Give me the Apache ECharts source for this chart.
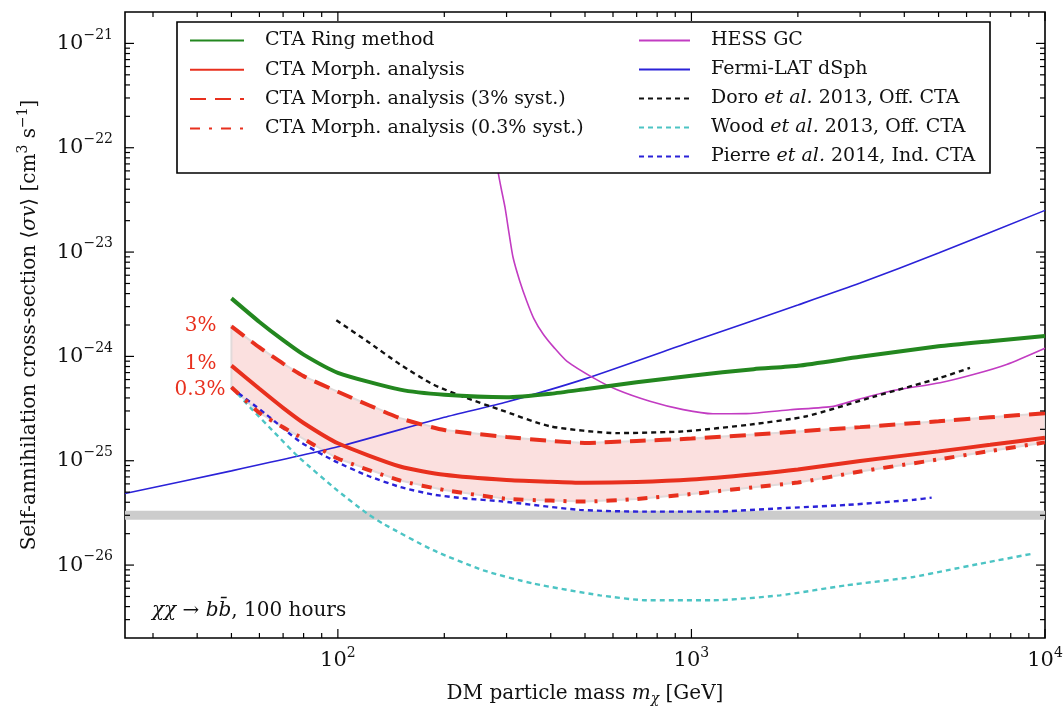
<!DOCTYPE html>
<html><head><meta charset="utf-8">
<script src="https://cdn.jsdelivr.net/npm/echarts@6/dist/echarts.min.js"></script>
<style>html,body{margin:0;padding:0;background:#fff}#c{width:1063px;height:709px}</style>
</head><body><div id="c"></div>
<script>
// ---------------- data ----------------
const ctaMass = [50,60,70,80,100,150,200,300,400,500,700,1000,1500,2000,3000,5000,7000,10000];
const ringSigma = [3.6e-24,2.14e-24,1.43e-24,1.04e-24,6.97e-25,4.8e-25,4.29e-25,4.06e-25,4.39e-25,4.85e-25,5.66e-25,6.53e-25,7.55e-25,8.14e-25,9.93e-25,1.25e-24,1.4e-24,1.57e-24];
const morphSigma = [8.16e-25,4.89e-25,3.21e-25,2.3e-25,1.47e-25,8.8e-26,7.33e-26,6.53e-26,6.3e-26,6.15e-26,6.25e-26,6.6e-26,7.43e-26,8.24e-26,9.95e-26,1.23e-25,1.42e-25,1.66e-25];
const morph3Sigma = [1.94e-24,1.22e-24,8.53e-25,6.47e-25,4.58e-25,2.56e-25,1.97e-25,1.69e-25,1.55e-25,1.48e-25,1.55e-25,1.63e-25,1.78e-25,1.91e-25,2.1e-25,2.39e-25,2.61e-25,2.85e-25];
const morph03Sigma = [5.07e-25,2.88e-25,2.09e-25,1.62e-25,1.05e-25,6.46e-26,5.24e-26,4.31e-26,4.15e-26,4.06e-26,4.3e-26,4.8e-26,5.57e-26,6.18e-26,7.88e-26,1.03e-25,1.24e-25,1.5e-25];

const hessMass = [278,284,290,297,305,313,327,342,358,381,410,444,528,614,763,948,1150,1430,1900,2520,2930,3640,5050,6270,7790,10000];
const hessSigma = [9.4e-23,5.82e-23,4.0e-23,2.68e-23,1.5e-23,8.87e-24,5.26e-24,3.4e-24,2.32e-24,1.63e-24,1.2e-24,9.01e-25,6.23e-25,4.82e-25,3.72e-25,3.09e-25,2.82e-25,2.83e-25,3.08e-25,3.32e-25,3.84e-25,4.64e-25,5.6e-25,6.71e-25,8.38e-25,1.2e-24];

const fermiMass = [25,50,100,200,300,500,1000,2000,3000,5000,10000];
const fermiSigma = [4.85e-26,8.0e-26,1.36e-25,2.61e-25,3.66e-25,6.09e-25,1.38e-24,3.11e-24,5.04e-24,9.79e-24,2.51e-23];

const doroMass = [99,121,150,186,231,287,398,614,948,1464,2118,3268,5047,6136];
const doroSigma = [2.22e-24,1.4e-24,8.37e-25,5.38e-25,4.0e-25,3.09e-25,2.14e-25,1.84e-25,1.91e-25,2.22e-25,2.67e-25,4.1e-25,6.22e-25,7.77e-25];

const woodMass = [50,56.8,66.4,77.3,100,121,134,186,258,357,551,747,1153,1780,2748,4241,5272,6550,9267];
const woodSigma = [5.07e-25,3.18e-25,1.84e-25,1.09e-25,5.15e-26,3.12e-26,2.5e-26,1.39e-26,8.9e-27,6.65e-27,5.13e-27,4.6e-27,4.6e-27,5.13e-27,6.4e-27,7.69e-27,8.9e-27,1.03e-26,1.29e-26];

const pierreMass = [50,62.8,78,97,121,150,186,231,287,484,747,1153,1780,2748,4241,4780];
const pierreSigma = [5.0e-25,2.77e-25,1.53e-25,1.01e-25,7.22e-26,5.6e-26,4.74e-26,4.34e-26,4.1e-26,3.38e-26,3.25e-26,3.25e-26,3.5e-26,3.77e-26,4.22e-26,4.43e-26];

const thermalMass = [25,10000];
const thermalSigma = [3.0e-26,3.0e-26];

const pctLabels = ['3%','1%','0.3%'];

const xMajorTicks = [100,1000,10000];
const yMajorTicks = [1e-26,1e-25,1e-24,1e-23,1e-22,1e-21];
const xRange = [25,10000];
const yRange = [2e-27,2e-21];

// ---------------- build ----------------
const FONT = 'DejaVu Serif';
const RED = '#e8301e';
const pairs = (xs, ys) => xs.map((x,i)=>[x, ys[i]]);

const xMinor = [], yMinor = [];
for (let e = 1; e <= 3; e++) for (let k = 2; k <= 9; k++) { const v = k*Math.pow(10,e); if (v > xRange[0] && v < xRange[1]) xMinor.push(v); }
for (let e = -27; e <= -21; e++) for (let k = 2; k <= 9; k++) { const v = k*Math.pow(10,e); if (v > yRange[0]*1.01 && v < yRange[1]*0.99) yMinor.push(v); }
const tickData = [];
xMajorTicks.forEach(v=>tickData.push([v, yRange[0], 0]));
xMinor.forEach(v=>tickData.push([v, yRange[0], 1]));
yMajorTicks.forEach(v=>tickData.push([xRange[0], v, 2]));
yMinor.forEach(v=>tickData.push([xRange[0], v, 3]));

function renderTick(params, api) {
  const cs = params.coordSys;
  const kind = api.value(2);
  const len = (kind === 0 || kind === 2) ? 9 : 5;
  const p = api.coord([api.value(0), api.value(1)]);
  const st = {stroke:'#000', lineWidth:1.2};
  if (kind < 2) {
    const b = cs.y + cs.height, t = cs.y;
    return {type:'group', children:[
      {type:'line', shape:{x1:p[0], y1:b, x2:p[0], y2:b-len}, style:st},
      {type:'line', shape:{x1:p[0], y1:t, x2:p[0], y2:t+len}, style:st}]};
  }
  const l = cs.x, r = cs.x + cs.width;
  return {type:'group', children:[
    {type:'line', shape:{x1:l, y1:p[1], x2:l+len, y2:p[1]}, style:st},
    {type:'line', shape:{x1:r, y1:p[1], x2:r-len, y2:p[1]}, style:st}]};
}

function renderBand(params, api) {
  const top = ctaMass.map((m,i)=>api.coord([m, morph3Sigma[i]]));
  const bot = ctaMass.map((m,i)=>api.coord([m, morph03Sigma[i]])).reverse();
  return {type:'polygon', shape:{points: top.concat(bot)},
          style:{fill:'#fbe0df', stroke:'#e2dada', lineWidth:2}};
}

// label styling (offsets in px, not data)
const pctGap = [15, 15, 6];
const pctShift = [-1, -2, 3];
function renderPct(params, api) {
  const i = params.dataIndex;
  const p = api.coord([api.value(0), api.value(1)]);
  return {type:'text', x:p[0] - pctGap[i], y:p[1] + pctShift[i],
    style:{text:pctLabels[i], align:'right', verticalAlign:'middle', fill:RED,
           font:'20px "' + FONT + '"'}};
}

function expLabel(v) {
  if (!(v > 0)) return '';
  const e = Math.log10(v), r = Math.round(e);
  if (!isFinite(e) || Math.abs(e - r) > 1e-6) return '';
  return '{b|10}{s|' + (r < 0 ? '\u2212' + (-r) : String(r)) + '}';
}

const lineBase = {type:'line', showSymbol:false, symbol:'none', smooth:0.2, z:3};
const legendRich = {
  sp:{width:16, fontFamily:FONT, fontSize:19, lineHeight:20},
  n:{fontFamily:FONT, fontSize:19, color:'#111', lineHeight:20},
  it:{fontFamily:FONT, fontSize:19, fontStyle:'italic', color:'#111', lineHeight:20}
};
const legendFmt = name => {
  const parts = name.split('et al.');
  let s = '{sp| }{n|' + parts[0] + '}';
  if (parts.length > 1) s += '{it|et al.}{n|' + parts[1] + '}';
  return s;
};

const legendCommon = {orient:'vertical', padding:0, itemHeight:14, selectedMode:false, z:5,
  itemStyle:{opacity:0, borderWidth:0}, formatter:legendFmt, textStyle:{rich:legendRich}};

const option = {
  animation:false,
  backgroundColor:'#fff',
  grid:{left:125, right:18, top:12, bottom:71, show:true, borderColor:'#000', borderWidth:1.6,
        backgroundColor:'transparent', containLabel:false, outerBoundsMode:'none'},
  xAxis:{type:'log', logBase:10, min:xRange[0], max:xRange[1],
    axisLine:{show:false}, axisTick:{show:false}, splitLine:{show:false},
    axisLabel:{formatter:expLabel, margin:8, color:'#111',
      rich:{b:{fontFamily:FONT, fontSize:21, color:'#111'}, s:{fontFamily:FONT, fontSize:14, color:'#111', padding:[0,0,16,0]}}},
    name:'{n|DM particle mass }{i|m}{sub|\u03c7}{n| [GeV]}', nameLocation:'middle', nameGap:44, nameMoveOverlap:false,
    nameTextStyle:{rich:{n:{fontFamily:FONT, fontSize:20, color:'#111'}, i:{fontFamily:FONT, fontSize:20, fontStyle:'italic', color:'#111'},
      sub:{fontFamily:FONT, fontSize:14, fontStyle:'italic', color:'#111', padding:[10,0,0,0]}}}
  },
  yAxis:{type:'log', logBase:10, min:yRange[0], max:yRange[1],
    axisLine:{show:false}, axisTick:{show:false}, splitLine:{show:false},
    axisLabel:{formatter:expLabel, margin:12, color:'#111',
      rich:{b:{fontFamily:FONT, fontSize:21, color:'#111'}, s:{fontFamily:FONT, fontSize:14, color:'#111', padding:[0,0,17,0]}}},
    name:'{n|Self-annihilation cross-section \u27e8}{i|\u03c3v}{n|\u27e9 [cm}{sup|3}{n| s}{sup|\u22121}{n|]}',
    nameLocation:'middle', nameRotate:90, nameGap:81, nameMoveOverlap:false,
    nameTextStyle:{rich:{n:{fontFamily:FONT, fontSize:20, color:'#111'}, i:{fontFamily:FONT, fontSize:20, fontStyle:'italic', color:'#111'},
      sup:{fontFamily:FONT, fontSize:14, color:'#111', padding:[0,0,14,0]}}}
  },
  legend:[
    Object.assign({}, legendCommon, {left:189, top:31, itemWidth:54, itemGap:10.3,
     data:['CTA Ring method','CTA Morph. analysis','CTA Morph. analysis (3% syst.)','CTA Morph. analysis (0.3% syst.)']}),
    Object.assign({}, legendCommon, {left:638, top:31, itemWidth:51, itemGap:10,
     data:['HESS GC','Fermi-LAT dSph','Doro et al. 2013, Off. CTA','Wood et al. 2013, Off. CTA','Pierre et al. 2014, Ind. CTA']})
  ],
  graphic:{elements:[
    {type:'rect', z:4, shape:{x:177, y:22, width:813, height:151}, style:{fill:'#fff', stroke:'#000', lineWidth:1.6}},
    {type:'text', z:4, left:152, top:601, style:{
      text:'{i|\u03c7\u03c7}{n| \u2192 }{i|bb\u0304}{n|, 100 hours}',
      rich:{n:{fontFamily:FONT, fontSize:20, fill:'#111'}, i:{fontFamily:FONT, fontSize:20, fontStyle:'italic', fill:'#111'}}}}
  ]},
  series:[
    {type:'custom', name:'band', renderItem:renderBand, data:[[ctaMass[0], morph3Sigma[0]]], silent:true, z:1, clip:true},
    {type:'line', name:'thermal', data:pairs(thermalMass, thermalSigma), showSymbol:false, symbol:'none',
     lineStyle:{color:'#cccccc', width:9}, silent:true, z:1},
    Object.assign({}, lineBase, {name:'Fermi-LAT dSph', data:pairs(fermiMass, fermiSigma), color:'#2b22d8', lineStyle:{color:'#2b22d8', width:1.6}}),
    Object.assign({}, lineBase, {name:'HESS GC', data:pairs(hessMass, hessSigma), color:'#c23cc2', lineStyle:{color:'#c23cc2', width:1.6}}),
    Object.assign({}, lineBase, {name:'Wood et al. 2013, Off. CTA', data:pairs(woodMass, woodSigma), color:'#4cc4c4', lineStyle:{color:'#4cc4c4', width:2.4, type:[5,4]}}),
    Object.assign({}, lineBase, {name:'Doro et al. 2013, Off. CTA', data:pairs(doroMass, doroSigma), color:'#111', lineStyle:{color:'#111', width:2.4, type:[5,4]}}),
    Object.assign({}, lineBase, {name:'Pierre et al. 2014, Ind. CTA', data:pairs(pierreMass, pierreSigma), color:'#2b22d8', lineStyle:{color:'#2b22d8', width:2.4, type:[5,4]}}),
    Object.assign({}, lineBase, {name:'CTA Morph. analysis (0.3% syst.)', data:pairs(ctaMass, morph03Sigma), color:RED, lineStyle:{color:RED, width:4, type:[10,9,3,9]}}),
    Object.assign({}, lineBase, {name:'CTA Morph. analysis (3% syst.)', data:pairs(ctaMass, morph3Sigma), color:RED, lineStyle:{color:RED, width:4, type:[16,9]}}),
    Object.assign({}, lineBase, {name:'CTA Morph. analysis', data:pairs(ctaMass, morphSigma), color:RED, lineStyle:{color:RED, width:4}}),
    Object.assign({}, lineBase, {name:'CTA Ring method', data:pairs(ctaMass, ringSigma), color:'#23871f', lineStyle:{color:'#23871f', width:4}}),
    {type:'custom', name:'pct', renderItem:renderPct, clip:false, silent:true, z:3,
     data:[[ctaMass[0], morph3Sigma[0]],[ctaMass[0], morphSigma[0]],[ctaMass[0], morph03Sigma[0]]]},
    {type:'custom', name:'ticks', renderItem:renderTick, data:tickData, silent:true, clip:false, z:6}
  ]
};
const chart = echarts.init(document.getElementById('c'), null, {renderer:'canvas'});
chart.setOption(option);
</script></body></html>
